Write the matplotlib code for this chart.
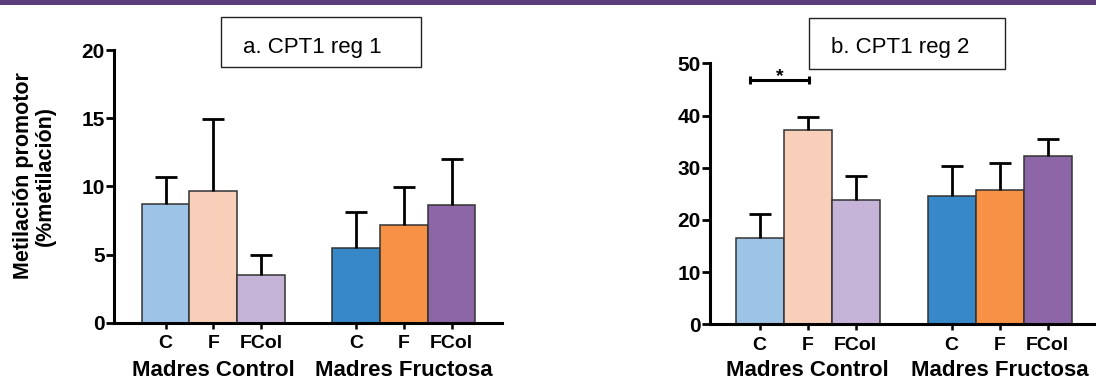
import numpy as np
import matplotlib
matplotlib.use("Agg")
import matplotlib.pyplot as plt
from matplotlib.patches import Rectangle
from matplotlib.transforms import blended_transform_factory

plt.rcParams['font.family'] = ['Liberation Sans', 'DejaVu Sans']

# Categories
treatments = ["C", "F", "FCol"]
groups = ["Madres Control", "Madres Fructosa"]
panel_titles = ["a. CPT1 reg 1", "b. CPT1 reg 2"]
y_label = "Metilación promotor\n(%metilación)"

# Mean methylation (%) and SEM, order: Control C, F, FCol | Fructosa C, F, FCol
reg1_mean = [8.70, 9.68, 3.50, 5.50, 7.20, 8.60]
reg1_sem = [2.02, 5.28, 1.50, 2.61, 2.78, 3.43]
reg2_mean = [16.5, 37.2, 23.75, 24.5, 25.7, 32.2]
reg2_sem = [4.70, 2.50, 4.65, 5.80, 5.20, 3.25]

bar_colors = ["#9dc3e6", "#f8d0b9", "#c6b4d8", "#3688c8", "#f69145", "#8d66a8"]

W, H = 1096, 380
fig = plt.figure(figsize=(W / 100, H / 100), dpi=100)


def px_rect(x0, y_top, x1, y_bottom):
    return [x0 / W, 1 - y_bottom / H, (x1 - x0) / W, (y_bottom - y_top) / H]


positions = np.array([0, 1, 2, 4, 5, 6])
group_centers = [1, 5]


def draw_panel(ax, means, sems, ymax, ystep, xlim):
    means = np.asarray(means)
    sems = np.asarray(sems)
    ax.bar(positions, means, width=1.0, color=bar_colors,
           edgecolor="#333333", linewidth=1.1, zorder=2)
    eb = ax.errorbar(positions, means, yerr=[np.zeros_like(sems), sems],
                     fmt="none", ecolor="black", elinewidth=2.0,
                     capsize=7.8, capthick=2.0, zorder=3)
    # keep only the upper caps
    for cl in eb[1]:
        if np.allclose(cl.get_ydata(), means):
            cl.set_visible(False)
    ax.set_ylim(0, ymax)
    ax.set_xlim(*xlim)
    ax.set_yticks(np.arange(0, ymax + 1, ystep))
    ax.set_xticks(positions)
    ax.set_xticklabels(treatments * 2)
    for s in ["top", "right"]:
        ax.spines[s].set_visible(False)
    for s in ["left", "bottom"]:
        ax.spines[s].set_linewidth(2.2)
    ax.tick_params(axis="y", length=5.5, width=2.0, pad=1, labelsize=15)
    ax.tick_params(axis="x", length=4.3, width=1.8, pad=4.5, labelsize=14)
    for lab in ax.get_xticklabels() + ax.get_yticklabels():
        lab.set_fontweight("bold")
    tr = blended_transform_factory(ax.transData, fig.transFigure)
    for gx, name in zip(group_centers, groups):
        ax.text(gx, 1 - 375.5 / H, name, transform=tr, ha="center",
                va="baseline", fontsize=16, fontweight="bold")


ax1 = fig.add_axes(px_rect(114, 50, 501.7, 322.7))
draw_panel(ax1, reg1_mean, reg1_sem, 20, 5, (-1.08, 7.05))

ax2 = fig.add_axes(px_rect(710, 63.3, 1098, 324.3))
draw_panel(ax2, reg2_mean, reg2_sem, 50, 10, (-1.035, 7.05))

# significance bracket between C and F (Madres Control)
bx = [-0.2, 1.02]
by = 46.86
ax2.plot(bx, [by, by], color="black", lw=2.2, clip_on=False, zorder=4)
ax2.plot(bx, [by, by], ls="none", marker="|", markersize=5.5,
         markeredgewidth=2.2, color="black", clip_on=False, zorder=4)
ax2.text(np.mean(bx), 46.6, "*", ha="center", va="baseline",
         fontsize=14, fontweight="bold", clip_on=False)

# panel title boxes
for (x0, y0, x1, y1, tx), title in zip(
        [(221, 17, 421, 67, 243), (808.5, 18.5, 1004.5, 69, 831)], panel_titles):
    fig.add_artist(Rectangle((x0 / W, 1 - y1 / H), (x1 - x0) / W, (y1 - y0) / H,
                             transform=fig.transFigure, fill=False,
                             edgecolor="#222222", lw=1.0))
    fig.text(tx / W, 1 - 52.8 / H, title, ha="left", va="baseline",
             fontsize=16)

# shared y-axis label
fig.text(34 / W, 1 - 176 / H, y_label, rotation=90, ha="center", va="center",
         multialignment="center", fontsize=15.5, fontweight="bold",
         linespacing=1.05)

# top band
fig.add_artist(Rectangle((0, 1 - 5 / H), 1, 5 / H, transform=fig.transFigure,
                         facecolor="#5b3d7b", edgecolor="none"))

fig.savefig("out.png", dpi=100)
